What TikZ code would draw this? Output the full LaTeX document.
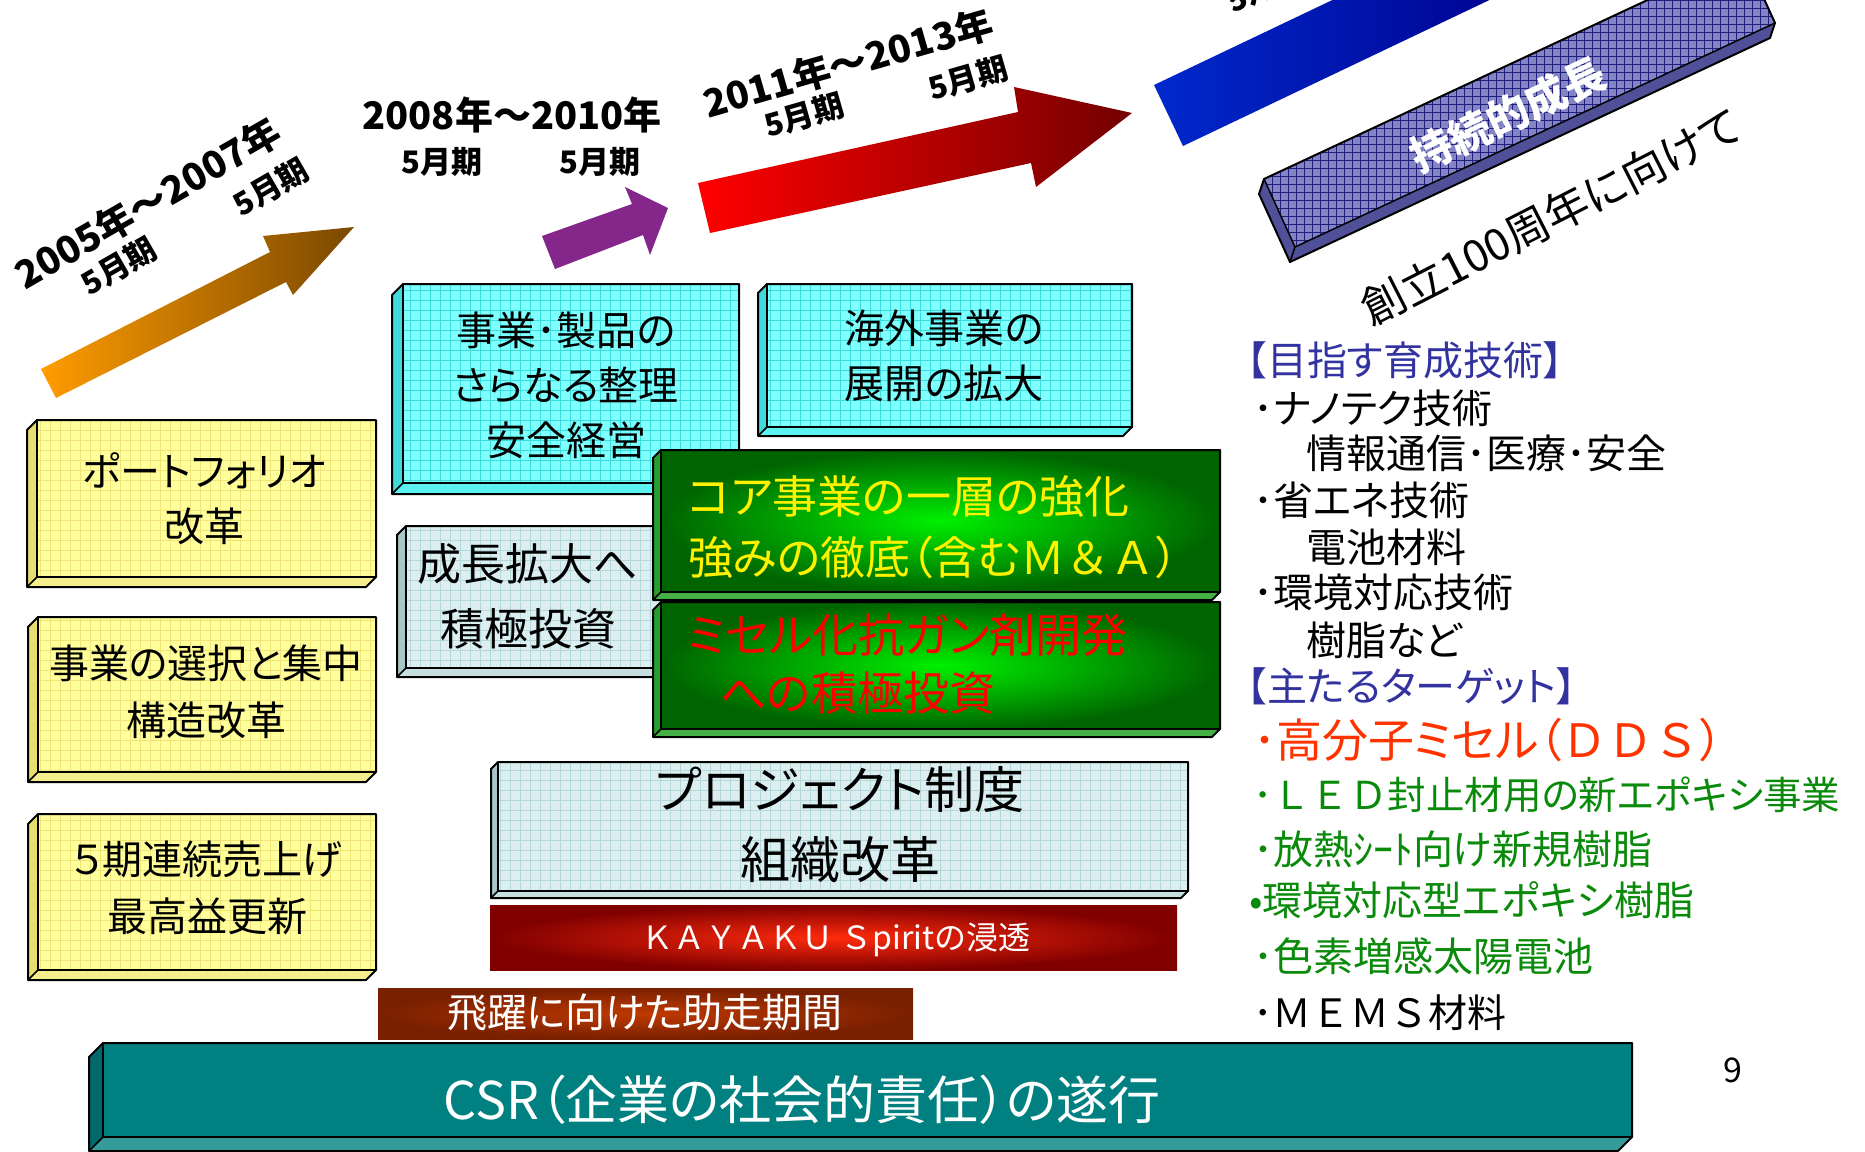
\documentclass[tikz,border=0pt]{standalone}
\usepackage{fontspec}
\setmainfont{Noto Sans CJK JP}[RawFeature={+palt}]
\newfontfamily\jpm{Noto Sans CJK JP}
\definecolor{yelF}{HTML}{FFFF9C}
\definecolor{yelG}{HTML}{EFE37A}
\definecolor{yelL}{HTML}{E6DE72}
\definecolor{yelB}{HTML}{F4EE8C}
\definecolor{cyaF}{HTML}{80FFFF}
\definecolor{cyaG}{HTML}{3CDCDC}
\definecolor{cyaL}{HTML}{40DADA}
\definecolor{cyaB}{HTML}{5CF2F2}
\definecolor{gryF}{HTML}{DDEEF0}
\definecolor{gryG}{HTML}{B4D8DA}
\definecolor{gryL}{HTML}{A6C6C8}
\definecolor{gryB}{HTML}{C6DEE0}
\definecolor{grnIn}{HTML}{00F000}
\definecolor{grnOut}{HTML}{006400}
\definecolor{grnL}{HTML}{2A9E2A}
\definecolor{grnB}{HTML}{44B044}
\definecolor{tealF}{HTML}{008080}
\definecolor{tealL}{HTML}{006A6A}
\definecolor{tealB}{HTML}{349A9A}
\definecolor{barF}{HTML}{8484C4}
\definecolor{barS}{HTML}{505098}
\definecolor{barG}{HTML}{1E1E7E}
\definecolor{purA}{HTML}{84268A}
\definecolor{hdBlue}{HTML}{3333A0}
\definecolor{ddsRed}{HTML}{FF3300}
\definecolor{lstGreen}{HTML}{0A8A0A}
\definecolor{orgT}{HTML}{FF9C00}
\definecolor{orgH}{HTML}{7A4800}
\newcommand\myfs[2]{\fontsize{#1}{#2}\selectfont}
% 3D box: x1 y1 x2 y2 depth leftcol bottomcol frontstyle gridstyle
\newcommand\bbox[9]{%
  \fill[#6] (#1,#2) -- (#1-#5,#2+#5) -- (#1-#5,#4+#5) -- (#1,#4) -- cycle;
  \fill[#7] (#1,#4) -- (#1-#5,#4+#5) -- (#3-#5,#4+#5) -- (#3,#4) -- cycle;
  \fill[#8] (#1,#2) rectangle (#3,#4);
  \begin{scope}
    \clip (#1,#2) rectangle (#3,#4);
    \draw[#9,line width=0.7pt,xstep=10pt,ystep=10pt] (#1,#2) grid (#3,#4);
  \end{scope}
  \draw[line width=2pt,line join=round] (#1,#2) -- (#1-#5,#2+#5) -- (#1-#5,#4+#5) -- (#3-#5,#4+#5) -- (#3,#4) -- (#3,#2) -- cycle;
  \draw[line width=2pt] (#1,#2) -- (#1,#4) -- (#3,#4);
  \draw[line width=1.5pt] (#1,#4) -- (#1-#5,#4+#5);
}
\begin{document}
\begin{tikzpicture}[x=1pt,y=-1pt,every node/.style={inner sep=0pt,outer sep=0pt},
  yearlbl/.style={font=\bfseries\myfs{38}{38}},
  monlbl/.style={font=\bfseries\myfs{31}{31}},
  boxtxt/.style={font=\myfs{40}{55},align=center},
  lst/.style={anchor=west,font=\myfs{40}{40}}]
\useasboundingbox (0,0) rectangle (1865,1151);
\clip (0,0) rectangle (1865,1151);

% ---- arrows along the top
\shade[left color=orgT, right color=orgH] (41,369) -- (270,252) -- (263,236) -- (354,227) -- (293,295) -- (286,282) -- (56,398) -- cycle;
\fill[purA] (542,236) -- (632,204) -- (625,187) -- (668,208) -- (650,255) -- (643,235) -- (555,269) -- cycle;
\shade[left color=red, right color=red!45!black] (698,183) -- (1018,112) -- (1014,87) -- (1132,113) -- (1036,187) -- (1031,163) -- (710,233) -- cycle;
\shade[left color=blue!80!cyan!80!black, right color=blue!55!black] (1154,85) -- (1183,146) -- (1544,-26) -- (1515,-87) -- cycle;

% ---- period labels
\node[yearlbl,rotate=30] (y1) at (148,203) {2005年～2007年};
\node[monlbl,rotate=30] (m1a) at (119,266) {5月期};
\node[monlbl,rotate=30] (m1b) at (271,187) {5月期};
\node[yearlbl] (y2) at (512,115) {2008年～2010年};
\node[monlbl] (m2a) at (442,162) {5月期};
\node[monlbl] (m2b) at (600,162) {5月期};
\node[yearlbl,rotate=16] (y3) at (848,63) {2011年～2013年};
\node[monlbl,rotate=16] (m3a) at (804,115) {5月期};
\node[monlbl,rotate=16] (m3b) at (968,78) {5月期};
\node[monlbl,rotate=25] (m4a) at (1265,-14) {5月期};

% ---- sustainable growth bar
\fill[barS] (1264,179) -- (1259,194) -- (1290,262) -- (1770,38) -- (1775,23) -- (1295,247) -- cycle;
\fill[barF] (1264,179) -- (1295,247) -- (1775,23) -- (1744,-45) -- cycle;
\begin{scope}
  \clip (1264,179) -- (1295,247) -- (1775,23) -- (1744,-45) -- cycle;
  \draw[barG,line width=0.9pt,xstep=8pt,ystep=8pt] (1250,-50) grid (1790,260);
\end{scope}
\draw[line width=2pt,line join=round] (1264,179) -- (1259,194) -- (1290,262) -- (1770,38) -- (1775,23) -- (1744,-45) -- cycle;
\draw[line width=1.5pt] (1264,179) -- (1295,247) -- (1775,23);
\draw[line width=1.5pt] (1295,247) -- (1290,262);
\node[rotate=25,text=white,font=\bfseries\myfs{42}{42}] (grow) at (1508,115) {持続的成長};
\node[rotate=27,font=\myfs{44}{44}] (cent) at (1551,217) {創立100周年に向けて};

% ---- boxes
\bbox{37}{420}{376}{577}{10}{yelL}{yelB}{yelF}{yelG}
\bbox{38}{617}{376}{772}{10}{yelL}{yelB}{yelF}{yelG}
\bbox{38}{814}{376}{970}{10}{yelL}{yelB}{yelF}{yelG}
\bbox{403}{284}{739}{483}{11}{cyaL}{cyaB}{cyaF}{cyaG}
\bbox{767}{284}{1132}{427}{9}{cyaL}{cyaB}{cyaF}{cyaG}
\bbox{406}{526}{690}{668}{9}{gryL}{gryB}{gryF}{gryG}
\bbox{661}{450}{1220}{592}{8}{grnL}{grnB}{inner color=grnIn,outer color=grnOut}{draw=none}
\bbox{661}{602}{1220}{729}{8}{grnL}{grnB}{inner color=grnIn,outer color=grnOut}{draw=none}
\bbox{498}{762}{1188}{891}{7}{gryL}{gryB}{gryF}{gryG}
\bbox{103}{1043}{1632}{1137}{14}{tealL}{tealB}{tealF}{draw=none}
\shade[inner color=red!75!orange!95!white, outer color=red!50!black] (490,905) rectangle (1177,970);
\shade[inner color=orange!60!red!75!black, outer color=red!30!black!75!orange] (378,988) rectangle (913,1039);

% ---- box texts
\node[boxtxt] (yb1) at (204,499) {ポートフォリオ\\改革};
\node[boxtxt,font=\myfs{40}{57}] (yb2) at (206,692) {事業の選択と集中\\構造改革};
\node[boxtxt,font=\myfs{40}{57}] (yb3) at (207,888) {５期連続売上げ\\最高益更新};
\node[boxtxt] (cb1) at (566,385) {事業･製品の\\さらなる整理\\安全経営};
\node[boxtxt] (cb2) at (944,356) {海外事業の\\展開の拡大};
\node[boxtxt,font=\myfs{44}{65}] (gb) at (528,596) {成長拡大へ\\積極投資};
\node[anchor=west,align=left,text=yellow,font=\myfs{45}{61}] (g1) at (688,527) {コア事業の一層の強化\\強みの徹底（含む{\jpm Ｍ＆Ａ}）};
\node[anchor=west,align=left,text=red,font=\myfs{46}{58}] (g2) at (688,664) {ミセル化抗ガン剤開発\\\hspace*{32pt}への積極投資};
\node[boxtxt,font=\myfs{50}{70}] (pj) at (840,825) {プロジェクト制度\\組織改革};
\node[text=white,font=\jpm\myfs{32}{32}] (ks) at (836,940) {ＫＡＹＡＫＵ Ｓpiritの浸透};
\node[text=white,font=\myfs{40}{40}] (jo) at (645,1012) {飛躍に向けた助走期間};
\node[text=white,font=\myfs{52}{52}] (csr) at (802,1100) {CSR（企業の社会的責任）の遂行};
\node[font=\myfs{34}{34}] (pg) at (1733,1070) {9};

% ---- right list
\node[lst,text=hdBlue] (h1) at (1247,360) {【目指す育成技術】};
\node[lst] (l1) at (1253,408) {･ナノテク技術};
\node[lst] (l2) at (1306,453) {情報通信･医療･安全};
\node[lst] (l3) at (1253,500) {･省エネ技術};
\node[lst] (l4) at (1306,547) {電池材料};
\node[lst] (l5) at (1253,592) {･環境対応技術};
\node[lst] (l6) at (1306,640) {樹脂など};
\node[lst,text=hdBlue] (h2) at (1247,686) {【主たるターゲット】};
\node[lst,text=ddsRed,font=\myfs{46}{46}] (t1) at (1253,740) {･高分子ミセル（{\jpm ＤＤＳ}）};
\node[lst,text=lstGreen,font=\myfs{38.5}{40}] (t2) at (1253,795) {･{\jpm ＬＥＤ}封止材用の新エポキシ事業};
\node[lst,text=lstGreen] (t3) at (1253,849) {･放熱ｼｰﾄ向け新規樹脂};
\node[lst,text=lstGreen] (t4) at (1249,900) {•環境対応型エポキシ樹脂};
\node[lst,text=lstGreen] (t5) at (1253,956) {･色素増感太陽電池};
\node[lst,font=\myfs{39}{40}] (t6) at (1253,1013) {･{\jpm ＭＥＭＳ}材料};
\end{tikzpicture}
\end{document}
